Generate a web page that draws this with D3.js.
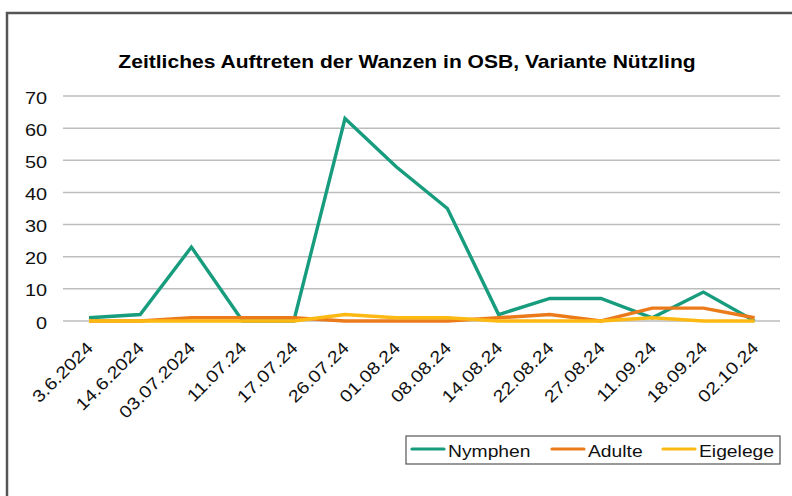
<!DOCTYPE html>
<html>
<head>
<meta charset="utf-8">
<script src="https://cdn.jsdelivr.net/npm/d3@7"></script>
<style>
  html, body { margin: 0; padding: 0; background: #fff; }
  svg { display: block; font-family: "Liberation Sans", Arial, Helvetica, sans-serif; }
</style>
</head>
<body>
<div id="chart"></div>
<script>
// Zeitliches Auftreten der Wanzen in OSB, Variante Nützling
const dates = ["3.6.2024", "14.6.2024", "03.07.2024", "11.07.24", "17.07.24", "26.07.24", "01.08.24",
               "08.08.24", "14.08.24", "22.08.24", "27.08.24", "11.09.24", "18.09.24", "02.10.24"];
const nymphen  = [1, 2, 23, 0, 0, 63, 48, 35, 2, 7, 7, 1, 9, 0];
const adulte   = [0, 0, 1, 1, 1, 0, 0, 0, 1, 2, 0, 4, 4, 1];
const eigelege = [0, 0, 0, 0, 0, 2, 1, 1, 0, 0, 0, 1, 0, 0];
const seriesNames = ["Nymphen", "Adulte", "Eigelege"];
const yTicks = [0, 10, 20, 30, 40, 50, 60, 70];

function createLineChart() {
    const width = 792, height = 496;
    const sx = 1.17; // text in the original is stretched horizontally

    const svg = d3.select("#chart").append("svg")
        .attr("width", width)
        .attr("height", height);

    // outer frame (runs off the right and bottom edge)
    svg.append("rect")
        .attr("x", 7).attr("y", 13)
        .attr("width", 800).attr("height", 500)
        .style("fill", "none")
        .style("stroke", "#555")
        .style("stroke-width", 2.5);

    const colorScale = d3.scaleOrdinal()
        .domain(seriesNames)
        .range(["#179c7d", "#eb7a1b", "#fdb913"]);

    const series = [
        { name: "Nymphen", values: nymphen },
        { name: "Adulte", values: adulte },
        { name: "Eigelege", values: eigelege }
    ];

    const x = d3.scalePoint()
        .domain(dates)
        .range([89, 89 + 13 * 51.2]);

    const y = d3.scaleLinear()
        .domain([0, 70])
        .range([321, 96]);

    // title
    svg.append("text")
        .attr("text-anchor", "middle")
        .attr("transform", `translate(407, 68) scale(${sx},1)`)
        .style("font-size", "18px")
        .style("font-weight", "bold")
        .style("fill", "#000")
        .text("Zeitliches Auftreten der Wanzen in OSB, Variante Nützling");

    // gridlines
    svg.append("g").selectAll("line")
        .data(yTicks)
        .enter().append("line")
        .attr("x1", 63).attr("x2", 780)
        .attr("y1", d => y(d)).attr("y2", d => y(d))
        .style("stroke", "#bdbdbd")
        .style("stroke-width", 1.5);

    // y labels
    svg.append("g").selectAll("text")
        .data(yTicks)
        .enter().append("text")
        .attr("text-anchor", "end")
        .attr("transform", d => `translate(47, ${y(d) + 7.5}) scale(${sx},1)`)
        .style("font-size", "17px")
        .style("fill", "#111")
        .text(d => d);

    // x labels
    svg.append("g").selectAll("text")
        .data(dates)
        .enter().append("text")
        .attr("text-anchor", "end")
        .attr("transform", d => `translate(${x(d) + 5}, 349) rotate(-45) scale(${sx},1)`)
        .style("font-size", "17px")
        .style("fill", "#111")
        .text(d => d);

    // lines
    const line = d3.line()
        .x((d, i) => x(dates[i]))
        .y(d => y(d));

    svg.append("g").selectAll("path")
        .data(series)
        .enter().append("path")
        .attr("d", d => line(d.values))
        .style("fill", "none")
        .style("stroke", d => colorScale(d.name))
        .style("stroke-width", 3.4)
        .style("stroke-linejoin", "miter");

    // legend
    const legend = svg.append("g");
    legend.append("rect")
        .attr("x", 406).attr("y", 436)
        .attr("width", 374).attr("height", 28)
        .style("fill", "#fff")
        .style("stroke", "#555")
        .style("stroke-width", 1.2);

    const legendX = [412, 552, 663];
    const item = legend.selectAll(".legend-item")
        .data(seriesNames)
        .enter().append("g")
        .attr("class", "legend-item");

    item.append("line")
        .attr("x1", (d, i) => legendX[i]).attr("x2", (d, i) => legendX[i] + 32)
        .attr("y1", 449).attr("y2", 449)
        .style("stroke", d => colorScale(d))
        .style("stroke-width", 3.2)
        .style("stroke-linecap", "round");

    item.append("text")
        .attr("transform", (d, i) => `translate(${legendX[i] + 36}, 457) scale(${sx},1)`)
        .style("font-size", "16.5px")
        .style("fill", "#111")
        .text(d => d);
}

createLineChart();
</script>
</body>
</html>
